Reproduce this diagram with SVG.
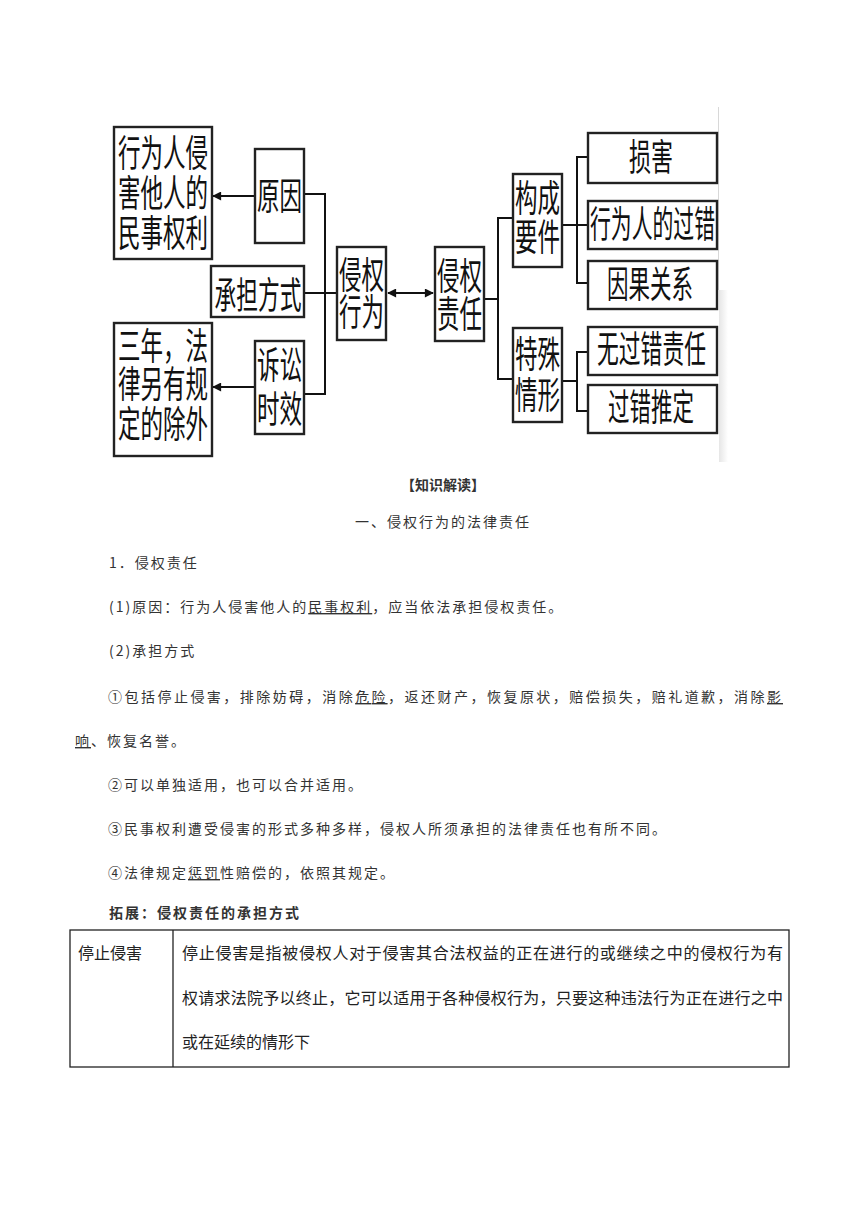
<svg xmlns="http://www.w3.org/2000/svg" width="860" height="1216" viewBox="0 0 860 1216">
<defs>
<marker id="ah" viewBox="0 0 10 10" refX="9" refY="5" markerWidth="11" markerHeight="9" markerUnits="userSpaceOnUse" orient="auto-start-reverse">
<path d="M0,0 L10,5 L0,10 Z" fill="#111"/>
</marker>
<linearGradient id="edge" x1="0" y1="0" x2="1" y2="0">
<stop offset="0" stop-color="#e6e6e6"/>
<stop offset="1" stop-color="#ffffff"/>
</linearGradient>
<style>
.box{fill:#fff;stroke:#222;stroke-width:2.4}
.ln{fill:none;stroke:#111;stroke-width:2}
.dt{font-family:"Noto Sans CJK SC","Noto Sans CJK JP",sans-serif;font-size:37px;fill:#111;text-anchor:middle}
.bt{font-family:"Noto Sans CJK SC","Noto Sans CJK JP",sans-serif;font-size:14px;fill:#333;letter-spacing:2px}
.tt{font-family:"Noto Sans CJK SC","Noto Sans CJK JP",sans-serif;font-size:16px;fill:#222}
.ul{text-decoration:underline}
</style>
</defs>
<rect width="860" height="1216" fill="#fff"/>
<line x1="718.5" y1="107" x2="718.5" y2="290" stroke="#d8d8d8" stroke-width="1"/>
<rect x="719" y="290" width="9" height="172" fill="url(#edge)"/>

<g id="connectors">
<path class="ln" d="M255,196 L213,196" marker-end="url(#ah)"/>
<path class="ln" d="M255,387 L213,387" marker-end="url(#ah)"/>
<path class="ln" d="M304,194 H325 V394 H304"/>
<path class="ln" d="M304,293 H337"/>
<path class="ln" d="M388,293 H433" marker-start="url(#ah)" marker-end="url(#ah)"/>
<path class="ln" d="M484,299 H498"/>
<path class="ln" d="M513,218 H498 V379 H513"/>
<path class="ln" d="M562,225 H577"/>
<path class="ln" d="M588,157 H577 V283 H588"/>
<path class="ln" d="M577,225 H588"/>
<path class="ln" d="M562,381 H577"/>
<path class="ln" d="M588,352 H577 V411 H588"/>
</g>

<g id="n-harm-rights">
<rect class="box" x="114" y="127" width="98" height="132"/>
<text class="dt"><tspan x="163" y="167" textLength="90" lengthAdjust="spacingAndGlyphs">行为人侵</tspan><tspan x="163" y="207" textLength="90" lengthAdjust="spacingAndGlyphs">害他人的</tspan><tspan x="163" y="247" textLength="90" lengthAdjust="spacingAndGlyphs">民事权利</tspan></text>
</g>
<g id="n-cause">
<rect class="box" x="255" y="149" width="49" height="94"/>
<text class="dt" x="279.5" y="210" textLength="45" lengthAdjust="spacingAndGlyphs">原因</text>
</g>
<g id="n-way">
<rect class="box" x="211" y="266" width="93" height="51"/>
<text class="dt" x="258" y="309" textLength="87" lengthAdjust="spacingAndGlyphs">承担方式</text>
</g>
<g id="n-three-years">
<rect class="box" x="114" y="323" width="98" height="133"/>
<text class="dt"><tspan x="163" y="360" textLength="90" lengthAdjust="spacingAndGlyphs">三年，法</tspan><tspan x="163" y="398" textLength="90" lengthAdjust="spacingAndGlyphs">律另有规</tspan><tspan x="163" y="438" textLength="90" lengthAdjust="spacingAndGlyphs">定的除外</tspan></text>
</g>
<g id="n-limitation">
<rect class="box" x="255" y="341" width="49" height="93"/>
<text class="dt"><tspan x="279.5" y="379" textLength="45" lengthAdjust="spacingAndGlyphs">诉讼</tspan><tspan x="279.5" y="423" textLength="45" lengthAdjust="spacingAndGlyphs">时效</tspan></text>
</g>
<g id="n-tort-act">
<rect class="box" x="337" y="247" width="49" height="93"/>
<text class="dt"><tspan x="361.5" y="289" textLength="45" lengthAdjust="spacingAndGlyphs">侵权</tspan><tspan x="361.5" y="326" textLength="45" lengthAdjust="spacingAndGlyphs">行为</tspan></text>
</g>
<g id="n-tort-liability">
<rect class="box" x="435" y="247" width="49" height="94"/>
<text class="dt"><tspan x="459.5" y="290" textLength="45" lengthAdjust="spacingAndGlyphs">侵权</tspan><tspan x="459.5" y="328" textLength="45" lengthAdjust="spacingAndGlyphs">责任</tspan></text>
</g>
<g id="n-elements">
<rect class="box" x="513" y="174" width="49" height="93"/>
<text class="dt"><tspan x="537.5" y="212" textLength="45" lengthAdjust="spacingAndGlyphs">构成</tspan><tspan x="537.5" y="251" textLength="45" lengthAdjust="spacingAndGlyphs">要件</tspan></text>
</g>
<g id="n-special">
<rect class="box" x="513" y="328" width="49" height="94"/>
<text class="dt"><tspan x="537.5" y="368" textLength="45" lengthAdjust="spacingAndGlyphs">特殊</tspan><tspan x="537.5" y="409" textLength="45" lengthAdjust="spacingAndGlyphs">情形</tspan></text>
</g>
<g id="n-damage">
<rect class="box" x="588" y="133" width="129" height="50"/>
<text class="dt" x="651" y="171" textLength="44" lengthAdjust="spacingAndGlyphs">损害</text>
</g>
<g id="n-fault">
<rect class="box" x="588" y="201" width="129" height="48"/>
<text class="dt" x="652.5" y="238" textLength="125" lengthAdjust="spacingAndGlyphs">行为人的过错</text>
</g>
<g id="n-causation">
<rect class="box" x="588" y="261" width="129" height="48"/>
<text class="dt" x="650" y="298" textLength="86" lengthAdjust="spacingAndGlyphs">因果关系</text>
</g>
<g id="n-no-fault">
<rect class="box" x="588" y="327" width="129" height="48"/>
<text class="dt" x="651.5" y="363" textLength="109" lengthAdjust="spacingAndGlyphs">无过错责任</text>
</g>
<g id="n-presumed">
<rect class="box" x="588" y="385" width="129" height="48"/>
<text class="dt" x="651" y="421" textLength="86" lengthAdjust="spacingAndGlyphs">过错推定</text>
</g>

<g id="body-text">
<text class="bt" x="443" y="490" text-anchor="middle" font-weight="bold" style="letter-spacing:0">【知识解读】</text>
<text class="bt" x="443" y="527" text-anchor="middle">一、侵权行为的法律责任</text>
<text class="bt" x="109" y="568">1．侵权责任</text>
<text class="bt" x="109" y="612">(1)原因：行为人侵害他人的<tspan class="ul">民事权利</tspan>，应当依法承担侵权责任。</text>
<text class="bt" x="109" y="656">(2)承担方式</text>
<text class="bt" x="108" y="702" textLength="675" lengthAdjust="spacing">①包括停止侵害，排除妨碍，消除<tspan class="ul">危险</tspan>，返还财产，恢复原状，赔偿损失，赔礼道歉，消除<tspan class="ul">影</tspan></text>
<text class="bt" x="75" y="746"><tspan class="ul">响</tspan>、恢复名誉。</text>
<text class="bt" x="108" y="790">②可以单独适用，也可以合并适用。</text>
<text class="bt" x="108" y="834">③民事权利遭受侵害的形式多种多样，侵权人所须承担的法律责任也有所不同。</text>
<text class="bt" x="108" y="878">④法律规定<tspan class="ul">惩罚</tspan>性赔偿的，依照其规定。</text>
<text class="bt" x="109" y="918" font-weight="bold">拓展：侵权责任的承担方式</text>
</g>

<g id="table">
<rect x="70" y="930" width="719" height="137" fill="none" stroke="#222" stroke-width="1.3"/>
<line x1="173" y1="930" x2="173" y2="1067" stroke="#222" stroke-width="1.3"/>
<text class="tt" x="78" y="959">停止侵害</text>
<text class="tt" x="182" y="959" textLength="601" lengthAdjust="spacing">停止侵害是指被侵权人对于侵害其合法权益的正在进行的或继续之中的侵权行为有</text>
<text class="tt" x="182" y="1004" textLength="601" lengthAdjust="spacing">权请求法院予以终止，它可以适用于各种侵权行为，只要这种违法行为正在进行之中</text>
<text class="tt" x="182" y="1048">或在延续的情形下</text>
</g>
</svg>
